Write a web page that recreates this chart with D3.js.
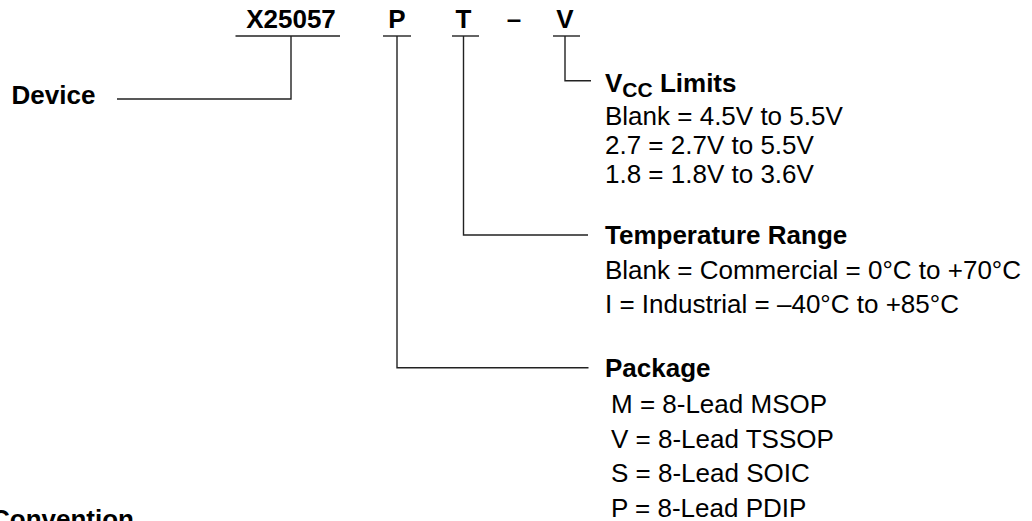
<!DOCTYPE html>
<html>
<head>
<meta charset="utf-8">
<script src="https://cdn.jsdelivr.net/npm/d3@7"></script>
<style>
  html, body { margin: 0; padding: 0; background: #fff; overflow: hidden; }
  svg { display: block; font-family: "Liberation Sans", Arial, Helvetica, sans-serif; }
</style>
</head>
<body>
<svg id="chart" width="1032" height="521"></svg>
<script>
// ---- data ----
const partCodes = ["X25057", "P", "T", "–", "V"];
const deviceLabel = "Device";
const vccHeader = ["V", "CC", " Limits"];
const vccOptions = ["Blank = 4.5V to 5.5V", "2.7 = 2.7V to 5.5V", "1.8 = 1.8V to 3.6V"];
const tempHeader = "Temperature Range";
const tempOptions = ["Blank = Commercial = 0°C to +70°C", "I = Industrial = –40°C to +85°C"];
const pkgHeader = "Package";
const pkgOptions = ["M = 8-Lead MSOP", "V = 8-Lead TSSOP", "S = 8-Lead SOIC", "P = 8-Lead PDIP"];
const footerLabel = "Convention";

// ---- layout ----
const svg = d3.select("#chart");
const INK = "#000";
const LINE = "#222";
const FS = 26;

// code positions (centre x of each code, underline extents)
const codeX = d3.scaleOrdinal().domain(partCodes).range([291, 397, 463.5, 514, 565]);
const underline = { "X25057": [235.5, 340], "P": [383, 411], "T": [452, 479], "V": [553, 580] };
const codeBase = 27.5, ulY = 36;

const g = svg.append("g");

g.selectAll("text.code").data(partCodes).join("text")
  .attr("class", "code")
  .attr("x", d => codeX(d)).attr("y", codeBase)
  .attr("text-anchor", "middle")
  .attr("font-weight", "bold").attr("font-size", FS).attr("fill", INK)
  .text(d => d);

g.selectAll("line.ul").data(partCodes.filter(d => underline[d])).join("line")
  .attr("class", "ul")
  .attr("x1", d => underline[d][0]).attr("x2", d => underline[d][1])
  .attr("y1", ulY).attr("y2", ulY)
  .attr("stroke", LINE).attr("stroke-width", 1.4);

// connector paths
const textX = 605;
const connectors = [
  { code: "X25057", pts: [[291, ulY], [291, 99], [117, 99]] },
  { code: "V", pts: [[565, ulY], [565, 80.7], [591, 80.7]] },
  { code: "T", pts: [[463.5, ulY], [463.5, 235], [588, 235]] },
  { code: "P", pts: [[397, ulY], [397, 367.7], [588.5, 367.7]] }
];
const lineGen = d3.line();
g.selectAll("path.conn").data(connectors).join("path")
  .attr("class", "conn")
  .attr("d", d => lineGen(d.pts))
  .attr("fill", "none").attr("stroke", LINE).attr("stroke-width", 1.4);

// Device label
g.append("text").attr("x", 11.5).attr("y", 104.3)
  .attr("font-weight", "bold").attr("font-size", FS).attr("fill", INK)
  .text(deviceLabel);

// VCC header with subscript
const vh = g.append("text").attr("x", textX).attr("y", 91.7)
  .attr("font-weight", "bold").attr("font-size", FS).attr("fill", INK);
vh.append("tspan").text(vccHeader[0]);
vh.append("tspan").attr("font-size", 21).attr("dy", 5).text(vccHeader[1]);
vh.append("tspan").attr("dy", -5).text(vccHeader[2]);

function optionBlock(opts, x, y0, step) {
  const y = d3.scaleLinear().domain([0, 1]).range([y0, y0 + step]);
  g.append("g").selectAll("text").data(opts).join("text")
    .attr("x", x).attr("y", (d, i) => y(i))
    .attr("font-size", FS).attr("fill", INK)
    .style("white-space", "pre")
    .text(d => d);
}
optionBlock(vccOptions, textX, 125, 29.2);

g.append("text").attr("x", textX).attr("y", 243.5)
  .attr("font-weight", "bold").attr("font-size", FS).attr("fill", INK)
  .text(tempHeader);
optionBlock(tempOptions, textX, 279, 33.7);

g.append("text").attr("x", textX).attr("y", 376.7)
  .attr("font-weight", "bold").attr("font-size", FS).attr("fill", INK)
  .text(pkgHeader);
optionBlock(pkgOptions, 611, 413.3, 34.4);

// footer (partially cut off)
g.append("text").attr("x", -9).attr("y", 528)
  .attr("font-weight", "bold").attr("font-size", FS).attr("fill", INK)
  .text(footerLabel);
</script>
</body>
</html>
